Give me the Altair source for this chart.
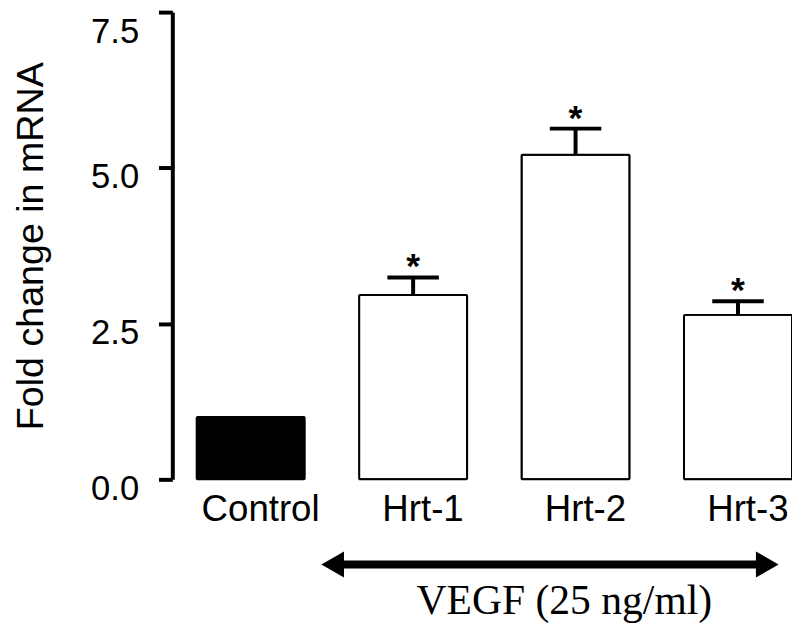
import altair as alt
import pandas as pd

categories = ["Control", "Hrt-1", "Hrt-2", "Hrt-3"]
means = [1.0, 2.96, 5.21, 2.64]
errors = [0.0, 0.28, 0.42, 0.22]
significant = ["", "*", "*", "*"]
fills = ["black", "white", "white", "white"]
y_ticks = [0.0, 2.5, 5.0, 7.5]
y_title = "Fold change in mRNA"
arrow_label = "VEGF (25 ng/ml)"

df = pd.DataFrame({"group": categories, "mean": means, "err": errors,
                   "sig": significant, "fill": fills})
df["upper"] = df["mean"] + df["err"]

W, H = 626, 472
SANS = "Liberation Sans, Arial, Helvetica, sans-serif"
SERIF = "Liberation Serif, Times New Roman, serif"

xscale = alt.Scale(domain=categories, paddingInner=0.335, paddingOuter=0.075, align=1.0)
yscale = alt.Scale(domain=[0, 7.5], nice=False, zero=True)

top_label = alt.datum.value >= 7.5

x_axis = alt.Axis(title=None, domain=False, ticks=False, labelAngle=0, labelFont=SANS,
                  labelFontSize=37, labelColor="black", labelPadding=13, labelOffset=10)
y_axis = alt.Axis(values=y_ticks, format=".1f", title=y_title, grid=False,
                  domainColor="black", domainWidth=4, tickColor="black", tickWidth=4,
                  tickSize=14, labelFont=SANS, labelFontSize=35, labelColor="black",
                  labelPadding=20, labelFlush=False,
                  labelBaseline=alt.condition(top_label, alt.value("top"), alt.value("middle")),
                  labelOffset=alt.condition(top_label, alt.value(3), alt.value(9)),
                  titleFont=SANS, titleFontSize=38, titleFontWeight="normal",
                  titleColor="black", titleX=-131, titleY=H / 2,
                  titleBaseline="alphabetic")

X = alt.X("group:N", scale=xscale, sort=categories, axis=x_axis)

base = alt.Chart(df)

bars = base.mark_bar(stroke="black", strokeWidth=2, cornerRadius=1).encode(
    x=X,
    y=alt.Y("mean:Q", scale=yscale, axis=y_axis),
    fill=alt.Fill("fill:N", scale=None),
)

err_rule = base.transform_filter(alt.datum.err > 0).mark_rule(
    strokeWidth=4, color="black").encode(
    x=X,
    y=alt.Y("mean:Q", scale=yscale, axis=y_axis),
    y2="upper:Q",
)

caps = base.transform_filter(alt.datum.err > 0).mark_tick(
    thickness=4, size=52, color="black", opacity=1).encode(
    x=X,
    y=alt.Y("upper:Q", scale=yscale, axis=y_axis),
)

stars = base.transform_filter(alt.datum.err > 0).mark_text(
    font=SANS, fontSize=36, fontWeight="bold", color="black",
    baseline="alphabetic", align="center", dy=1).encode(
    x=X,
    y=alt.Y("upper:Q", scale=yscale, axis=y_axis),
    text="sig:N",
)

ann = alt.Chart(pd.DataFrame({"k": [0]}))
arrow_line = ann.mark_rule(strokeWidth=8, color="black").encode(
    x=alt.value(166), x2=alt.value(598), y=alt.value(558))
head_left = ann.mark_point(shape="triangle-left", filled=True, size=700,
                           color="black", opacity=1).encode(
    x=alt.value(162), y=alt.value(558))
head_right = ann.mark_point(shape="triangle-right", filled=True, size=700,
                            color="black", opacity=1).encode(
    x=alt.value(601), y=alt.value(558))
arrow_text = ann.mark_text(text=arrow_label, font=SERIF, fontSize=42, color="black",
                           align="center", baseline="alphabetic").encode(
    x=alt.value(396), y=alt.value(608))

chart = alt.layer(bars, err_rule, caps, stars, arrow_line, head_left, head_right,
                  arrow_text).properties(
    width=W, height=H,
    autosize=alt.AutoSizeParams(type="none"),
    padding={"left": 166, "top": 1, "right": 0, "bottom": 146},
    background="white",
).configure_view(stroke=None)

chart.save("out.html", embed_options={"renderer": "svg", "actions": False})
